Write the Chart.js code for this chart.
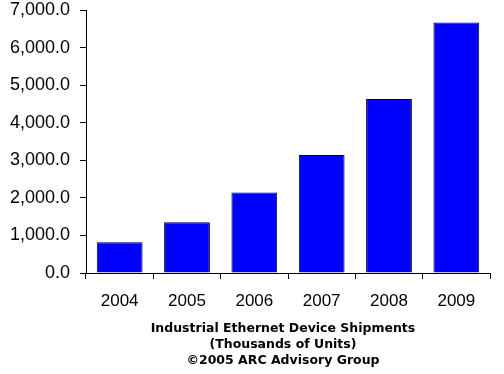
<!DOCTYPE html>
<html>
<head>
<meta charset="utf-8">
<script src="https://cdn.jsdelivr.net/npm/chart.js@4"></script>
<style>
  html, body { margin: 0; padding: 0; background: #fff; }
  #wrap { width: 504px; height: 374px; }
</style>
</head>
<body>
<div id="wrap"><canvas id="shipChart" width="504" height="374"></canvas></div>
<script>
const years = ['2004', '2005', '2006', '2007', '2008', '2009'];
const shipments = [820, 1350, 2140, 3140, 4630, 6670]; // thousands of units
const captionLines = [
  'Industrial Ethernet Device Shipments',
  '(Thousands of Units)',
  '\u00A92005 ARC Advisory Group'
];

// caption under the x axis
const caption = {
  id: 'caption',
  afterDraw(chart) {
    const c = chart.ctx;
    c.save();
    c.font = 'bold 12.5px "DejaVu Sans"';
    c.fillStyle = '#000';
    c.textAlign = 'center';
    c.textBaseline = 'middle';
    captionLines.forEach((t, i) => c.fillText(t, 283, 329 + i * 16));
    c.restore();
  }
};

const ctx = document.getElementById('shipChart').getContext('2d');
new Chart(ctx, {
  type: 'bar',
  data: {
    labels: years,
    datasets: [{
      data: shipments,
      backgroundColor: '#0000ff',
      borderColor: '#000000',
      borderWidth: 1,
      categoryPercentage: 1,
      barPercentage: 0.68
    }]
  },
  options: {
    responsive: false,
    animation: false,
    layout: { padding: { top: 0, right: 14, bottom: 60, left: 0 } },
    plugins: { legend: { display: false }, tooltip: { enabled: false } },
    scales: {
      x: {
        afterFit(axis) { axis.height = 41; },
        grid: { drawOnChartArea: false, color: '#000', tickLength: 6 },
        border: { color: '#000', width: 1 },
        ticks: { color: '#000', padding: 12, font: { family: '"Liberation Sans"', size: 17 } }
      },
      y: {
        min: 0,
        max: 7000,
        afterFit(axis) { axis.width = 86; axis.paddingTop = 10; },
        grid: { drawOnChartArea: false, color: '#000', tickLength: 6 },
        border: { color: '#000', width: 1 },
        ticks: {
          stepSize: 1000,
          padding: 10,
          color: '#000',
          font: { family: '"Liberation Sans"', size: 18 },
          callback: v => v.toLocaleString('en-US', { minimumFractionDigits: 1, maximumFractionDigits: 1 })
        }
      }
    }
  },
  plugins: [caption]
});
</script>
</body>
</html>
